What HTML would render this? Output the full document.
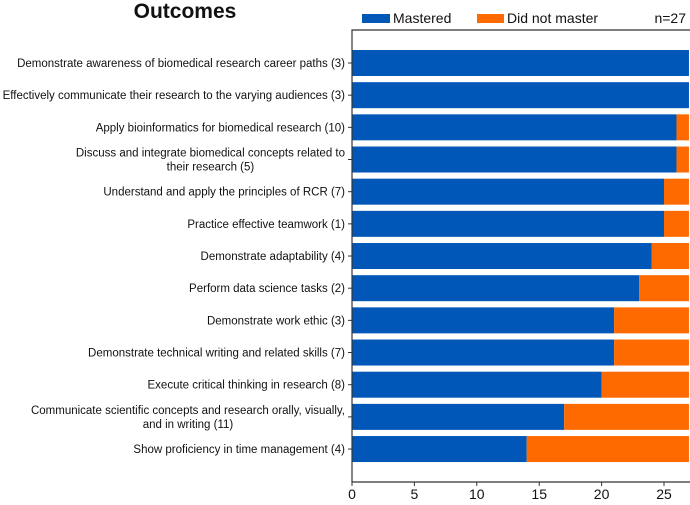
<!DOCTYPE html>
<html><head><meta charset="utf-8"><style>
body{margin:0;background:#fff;}
svg text{font-family:"Liberation Sans","DejaVu Sans",sans-serif;fill:#111;}
</style></head><body>
<svg id="chart" width="690" height="500" xmlns="http://www.w3.org/2000/svg">
<text x="185" y="18" font-size="21" font-weight="bold" text-anchor="middle">Outcomes</text>
<g>
<rect x="362" y="14" width="28" height="9" fill="#0057b7"/>
<text x="393" y="23" font-size="14">Mastered</text>
<rect x="477" y="14" width="27" height="9" fill="#ff6a00"/>
<text x="507" y="23" font-size="14">Did not master</text>
<text x="686" y="23" font-size="14" text-anchor="end">n=27</text>
</g>
<g id="plot"></g>
</svg>
<script>
const categories=[
["Demonstrate awareness of biomedical research career paths (3)"],
["Effectively communicate their research to the varying audiences (3)"],
["Apply bioinformatics for biomedical research (10)"],
["Discuss and integrate biomedical concepts related to","their research (5)"],
["Understand and apply the principles of RCR (7)"],
["Practice effective teamwork (1)"],
["Demonstrate adaptability (4)"],
["Perform data science tasks (2)"],
["Demonstrate work ethic (3)"],
["Demonstrate technical writing and related skills (7)"],
["Execute critical thinking in research (8)"],
["Communicate scientific concepts and research orally, visually,","and in writing (11)"],
["Show proficiency in time management (4)"]];
const mastered=[27,27,26,26,25,25,24,23,21,21,20,17,14];
const notMastered=[0,0,1,1,2,2,3,4,6,6,7,10,13];
const xTicks=[0,5,10,15,20,25];
const NS="http://www.w3.org/2000/svg";
const g=document.getElementById('plot');
const x0=352,xPer=12.48,top0=50,pitch=32.17,bh=26,axTop=30,axBot=482,axRight=690;
const X=v=>x0+v*xPer;
const Y=i=>top0+i*pitch;
function mk(t,a,p){const e=document.createElementNS(NS,t);for(const k in a)e.setAttribute(k,a[k]);(p||g).appendChild(e);return e;}
categories.forEach((c,i)=>{
 const y=Y(i);
 const b=mk('rect',{x:X(0),y:y,width:X(mastered[i])-X(0),height:bh,fill:'#0057b7'});
 
 
 if(notMastered[i]>0){
  const o=mk('rect',{x:X(mastered[i]),y:y,width:X(mastered[i]+notMastered[i])-X(mastered[i]),height:bh,fill:'#ff6a00'});
  
  
 }
 const cy=y+bh/2;
 mk('line',{x1:x0-4,x2:x0,y1:cy,y2:cy,stroke:'#333','stroke-width':1});
 if(c.length===1){
  const t=mk('text',{x:x0-7,y:cy+4,'font-size':11.5,'text-anchor':'end'});
  t.textContent=c[0];
  
  
 }else{
  const probe=mk('text',{x:0,y:-100,'font-size':11.5});
  probe.textContent=c[0];
  const w=probe.getComputedTextLength();
  g.removeChild(probe);
  const cx=x0-7-w/2;
  const t=mk('text',{x:cx,'font-size':11.5,'text-anchor':'middle'});
  
  
  c.forEach((ln,j)=>{const s=mk('tspan',{x:cx,y:cy+4+(j-(c.length-1)/2)*14},t);s.textContent=ln;});
 }
});
const ax=mk('path',{d:`M${axRight} ${axTop}H${x0}V${axBot}H${axRight}`,fill:'none',stroke:'#333','stroke-width':1.2});


xTicks.forEach(v=>{
 mk('line',{x1:X(v),x2:X(v),y1:axBot,y2:axBot+4,stroke:'#333','stroke-width':1});
 const t=mk('text',{x:X(v),y:axBot+17,'font-size':14,'text-anchor':'middle'});
 t.textContent=v;
 
 
});
</script>
</body></html>
